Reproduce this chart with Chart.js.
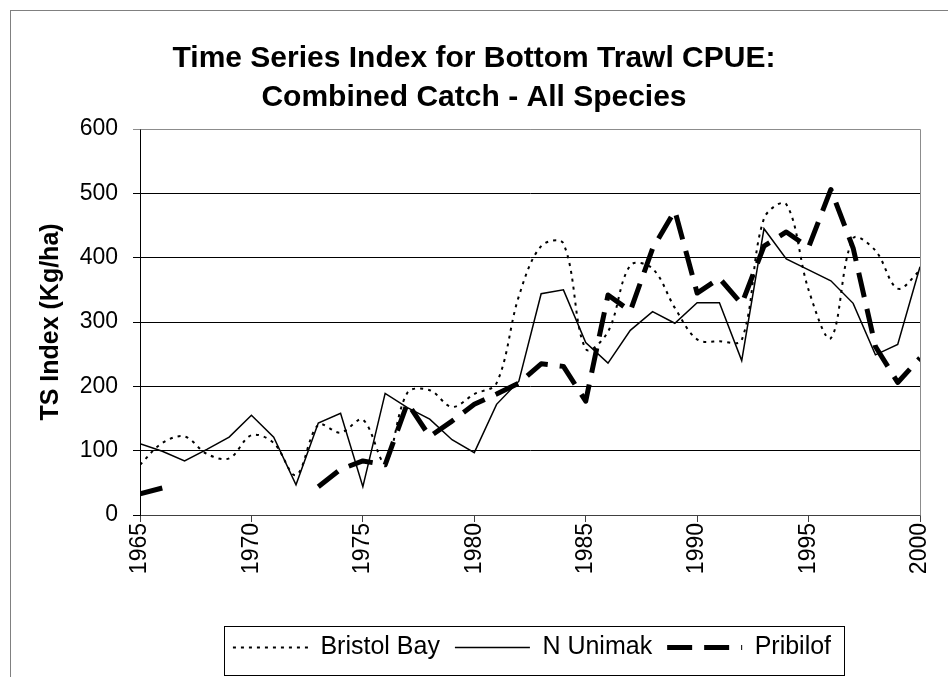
<!DOCTYPE html>
<html>
<head>
<meta charset="utf-8">
<script src="https://cdn.jsdelivr.net/npm/chart.js@4.4.0/dist/chart.umd.min.js"></script>
<style>
  body { margin: 0; background: #fff; }
  canvas { display: block; }
</style>
</head>
<body>
<canvas id="cpue-chart" width="948" height="677"></canvas>
<script>
// values (Kg/ha), one per survey year
var years = [1965, 1966, 1967, 1968, 1969, 1970, 1971, 1972, 1973, 1974, 1975, 1976,
             1977, 1978, 1979, 1980, 1981, 1982, 1983, 1984, 1985, 1986, 1987, 1988,
             1989, 1990, 1991, 1992, 1993, 1994, 1995, 1996, 1997, 1998, 1999, 2000];

var bristolBay = [78, 112, 122, 95, 88, 124, 112, 62, 140, 128, 148, 82,
                  190, 194, 168, 188, 205, 340, 418, 422, 258, 285, 388, 383,
                  322, 273, 270, 272, 461, 483, 350, 275, 430, 411, 352, 380];

var nUnimak = [111, 99, 84, 102, 121, 155, 121, 47, 143, 158, 44, 189,
               167, 149, 117, 97, 172, 208, 344, 350, 268, 236, 287, 316,
               298, 330, 330, 240, 445, 398, 381, 364, 329, 249, 265, 386];

// no Pribilof survey 1967-1972
var pribilof = [33, 42, null, null, null, null, null, null, 44, 71, 84, 78,
                174, 122, 146, 172, 188, 205, 235, 231, 177, 342, 317, 414,
                473, 345, 368, 328, 418, 440, 416, 506, 415, 262, 206, 244];

var xTickYears = [1965, 1970, 1975, 1980, 1985, 1990, 1995, 2000];
var yTickValues = [0, 100, 200, 300, 400, 500, 600];

var fontFamily = '"Liberation Sans", Arial, Helvetica, sans-serif';
var legendShift = 72;
var titleShift = 14;

function toPoints(values) {
  return years.map(function(y, i) { return { x: y, y: values[i] }; });
}

Chart.defaults.color = '#000';
Chart.defaults.font.family = fontFamily;

// white page, outer frame, plot-area border and the box round the legend
var framePlugin = {
  id: 'frame',
  beforeDraw: function(chart) {
    var ctx = chart.ctx;
    ctx.save();
    ctx.fillStyle = '#fff';
    ctx.fillRect(0, 0, chart.width, chart.height);
    ctx.strokeStyle = '#808080';
    ctx.lineWidth = 1;
    ctx.strokeRect(10.5, 10.5, chart.width + 20, chart.height + 20);
    ctx.restore();
  },
  afterLayout: function(chart) {
    var legend = chart.legend;
    legend.left += legendShift;
    legend.right += legendShift;
    legend.legendHitBoxes.forEach(function(b) { b.left += legendShift; });
    if (chart.titleBlock) {
      chart.titleBlock.left += titleShift;
      chart.titleBlock.right += titleShift;
    }
  },
  beforeDatasetsDraw: function(chart) {
    var a = chart.chartArea;
    var ctx = chart.ctx;
    ctx.save();
    ctx.strokeStyle = '#8c8c8c';
    ctx.lineWidth = 1;
    ctx.beginPath();
    ctx.moveTo(Math.round(a.left) + 0.5, Math.round(a.top) + 0.5);
    ctx.lineTo(Math.round(a.right) + 0.5, Math.round(a.top) + 0.5);
    ctx.lineTo(Math.round(a.right) + 0.5, Math.round(a.bottom) + 0.5);
    ctx.stroke();
    ctx.restore();
  },
  afterDraw: function(chart) {
    var boxes = chart.legend.legendHitBoxes;
    if (!boxes.length) return;
    var first = boxes[0], last = boxes[boxes.length - 1];
    var mid = first.top + first.height / 2;
    var left = Math.round(first.left - 9) + 0.5;
    var right = Math.round(last.left + last.width + 13) + 0.5;
    var top = Math.round(mid - 22) + 0.5;
    var bottom = Math.round(mid + 27) + 0.5;
    var ctx = chart.ctx;
    ctx.save();
    ctx.strokeStyle = '#000';
    ctx.lineWidth = 1;
    ctx.strokeRect(left, top, right - left, bottom - top);
    ctx.restore();
  }
};

var ctx = document.getElementById('cpue-chart').getContext('2d');

var chart = new Chart(ctx, {
  type: 'line',
  data: {
    datasets: [
      {
        label: 'Bristol Bay',
        data: toPoints(bristolBay),
        borderColor: '#000',
        backgroundColor: '#000',
        borderWidth: 2,
        borderDash: [3, 5],
        tension: 0.35,
        pointRadius: 0,
        fill: false
      },
      {
        label: 'N Unimak',
        data: toPoints(nUnimak),
        borderColor: '#000',
        backgroundColor: '#000',
        borderWidth: 1.5,
        tension: 0,
        pointRadius: 0,
        fill: false
      },
      {
        label: 'Pribilof',
        data: toPoints(pribilof),
        borderColor: '#000',
        backgroundColor: '#000',
        borderWidth: 5,
        borderDash: [25, 12],
        borderJoinStyle: 'round',
        tension: 0,
        pointRadius: 0,
        spanGaps: false,
        fill: false
      }
    ]
  },
  options: {
    responsive: false,
    animation: false,
    devicePixelRatio: 1,
    layout: { padding: { left: 0, right: 28, top: 0, bottom: 7 } },
    plugins: {
      tooltip: { enabled: false },
      title: {
        display: true,
        text: ['Time Series Index for Bottom Trawl CPUE:', 'Combined Catch - All Species'],
        color: '#000',
        font: { size: 30, weight: 'bold', lineHeight: 1.3 },
        padding: { top: 39, bottom: 12 }
      },
      legend: {
        position: 'bottom',
        labels: {
          usePointStyle: true,
          pointStyle: 'line',
          pointStyleWidth: 75,
          padding: 15,
          color: '#000',
          font: { size: 25 },
          // take the sample line from the dataset, not from its points
          generateLabels: function(chart) {
            var items = Chart.defaults.plugins.legend.labels.generateLabels(chart);
            items.forEach(function(item) {
              var ds = chart.data.datasets[item.datasetIndex];
              item.lineDash = ds.borderDash || [];
              item.lineWidth = ds.borderWidth;
              item.strokeStyle = ds.borderColor;
              item.pointStyle = 'line';
            });
            return items;
          }
        }
      }
    },
    scales: {
      x: {
        type: 'linear',
        min: 1965,
        max: 2000,
        afterBuildTicks: function(scale) {
          scale.ticks = xTickYears.map(function(v) { return { value: v }; });
        },
        afterFit: function(scale) {
          scale.height = 105;
          scale.paddingLeft = 0;
          scale.paddingRight = 0;
        },
        ticks: {
          minRotation: 90,
          maxRotation: 90,
          padding: 1,
          font: { size: 23 },
          color: '#000',
          callback: function(v) { return String(v); }
        },
        grid: {
          drawOnChartArea: false,
          drawTicks: true,
          tickLength: 7,
          color: '#404040'
        },
        border: { display: true, color: '#404040' }
      },
      y: {
        min: 0,
        max: 600,
        afterBuildTicks: function(scale) {
          scale.ticks = yTickValues.map(function(v) { return { value: v }; });
        },
        afterFit: function(scale) {
          scale.width = 140;
          scale.paddingTop = 0;
          scale.paddingBottom = 0;
        },
        ticks: {
          padding: 15,
          font: { size: 23 },
          color: '#000'
        },
        grid: {
          color: function(c) { return c.tick && c.tick.value === 600 ? '#8c8c8c' : '#000'; },
          lineWidth: 1,
          tickLength: 7
        },
        border: { display: true, color: '#000' },
        title: {
          display: true,
          text: 'TS Index (Kg/ha)',
          color: '#000',
          font: { size: 25, weight: 'bold' },
          padding: { top: 36, bottom: 0 }
        }
      }
    }
  },
  plugins: [framePlugin]
});
</script>
</body>
</html>
